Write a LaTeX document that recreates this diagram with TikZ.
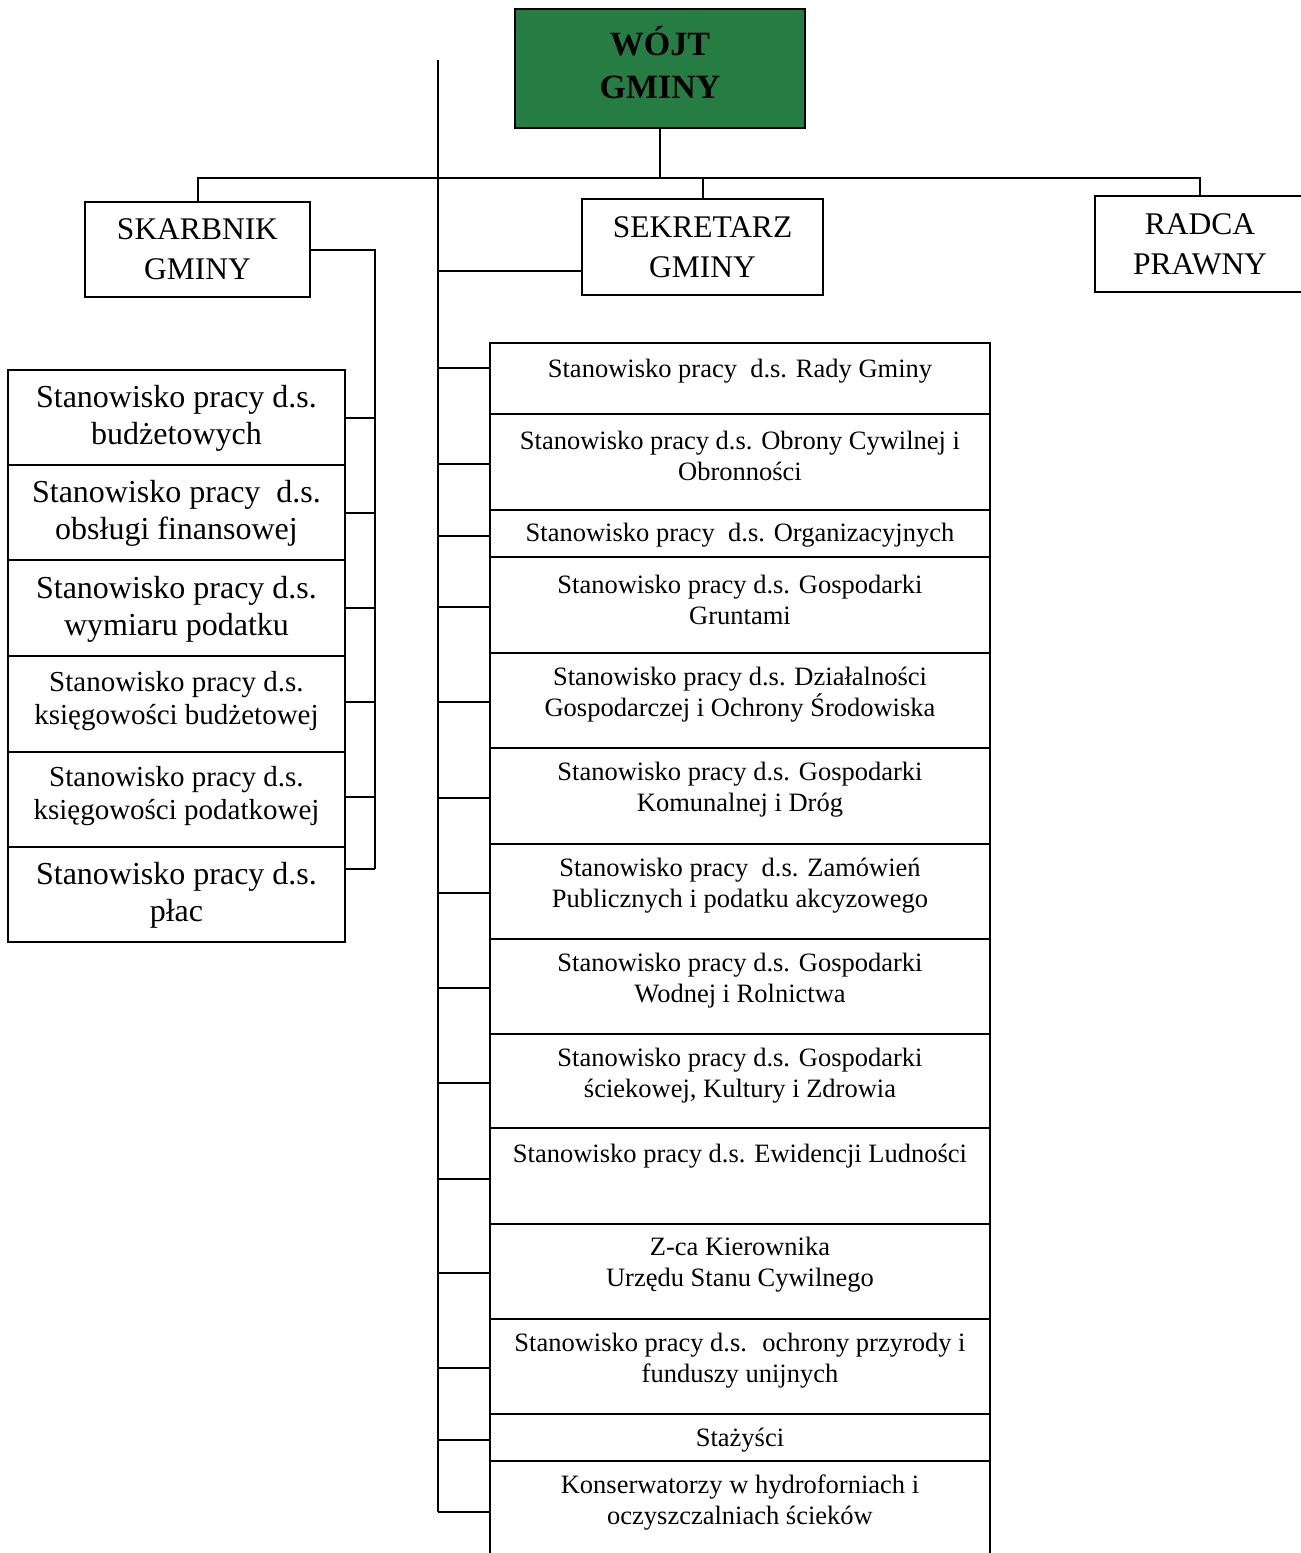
\documentclass[tikz,border=0pt]{standalone}
\usepackage{fontspec}
\setmainfont{Liberation Serif}
\definecolor{wgreen}{RGB}{38,125,68}
\begin{document}
\begin{tikzpicture}[x=1pt,y=-1pt,line width=2pt,
  box/.style={draw=black,line width=2pt,inner sep=0pt},
  topbox/.style={box,align=center,font=\fontsize{31.5}{40}\selectfont},
  rbox/.style={box,minimum width=500},
  lbox/.style={box,minimum width=337},
  rtxt/.style={align=center,inner sep=0pt,font=\fontsize{26.5}{31}\selectfont},
  ltxt/.style={align=center,inner sep=0pt,font=\fontsize{32}{37}\selectfont},
  lstxt/.style={align=center,inner sep=0pt,font=\fontsize{29}{33}\selectfont}]
\clip (0,0) rectangle (1301,1553);
\useasboundingbox (0,0) rectangle (1301,1553);
\fill[white] (0,0) rectangle (1301,1553);

% top level
\node[box,fill=wgreen,minimum width=290,minimum height=119] (wojt) at (660,68.5) {};
\node[align=center,inner sep=0pt,font=\bfseries\fontsize{34}{43}\selectfont] (wojtt) at (660,63) {WÓJT\\GMINY};
\node[topbox,minimum width=225,minimum height=95] (skarb) at (197.5,249.5) {SKARBNIK\\GMINY};
\node[topbox,minimum width=241,minimum height=96] (sekr) at (702.5,247) {SEKRETARZ\\GMINY};
\node[topbox,minimum width=210,minimum height=96] (radca) at (1200,244) {RADCA\\PRAWNY};

\coordinate (bar) at (660,178);
\draw (wojt.south) -- (bar);
\draw (skarb.north) |- (bar) -| (radca.north);
\draw (sekr.north) -- (sekr.north |- bar);

% main vertical line of the secretary
\coordinate (mtop) at (438,60);
\coordinate (mbot) at (438,1512);
\draw (mtop) -- (mbot);
\coordinate (ms) at (438,271);
\draw (ms) -- (ms -| sekr.west);

% right column
\foreach \i/\t/\b/\ty/\by/\txt in {
  1/343/414/371/368/{Stanowisko pracy \ d.s. Rady Gminy},
  2/414/510/456/464/{Stanowisko pracy d.s. Obrony Cywilnej i\\Obronności},
  3/510/557/535/536/{Stanowisko pracy \ d.s. Organizacyjnych},
  4/557/653/600/607/{Stanowisko pracy d.s. Gospodarki\\Gruntami},
  5/653/748/695/702/{Stanowisko pracy d.s. Działalności\\Gospodarczej i Ochrony Środowiska},
  6/748/844/790/798/{Stanowisko pracy d.s. Gospodarki\\Komunalnej i Dróg},
  7/844/939/886/893/{Stanowisko pracy \ d.s. Zamówień\\Publicznych i podatku akcyzowego},
  8/939/1034/981/988/{Stanowisko pracy d.s. Gospodarki\\Wodnej i Rolnictwa},
  9/1034/1128/1076/1083/{Stanowisko pracy d.s. Gospodarki\\ściekowej, Kultury i Zdrowia},
  10/1128/1224/1156/1179/{Stanowisko pracy d.s. Ewidencji Ludności},
  11/1224/1319/1265/1273/{Z-ca Kierownika\\Urzędu Stanu Cywilnego},
  12/1319/1414/1361/1368/{Stanowisko pracy d.s. \ ochrony przyrody i\\funduszy unijnych},
  13/1414/1461/1440/1440/{Stażyści},
  14/1461/1560/1503/1512/{Konserwatorzy w hydroforniach i\\oczyszczalniach ścieków}}{
  \node[rbox,minimum height={\b-\t}] (r\i) at (740,{(\t+\b)/2}) {};
  \node[rtxt] (rt\i) at (740,\ty) {\txt};
  \coordinate (m\i) at (438,\by);
  \draw (m\i) -- (m\i -| r\i.west);
}

% left column (treasurer)
\coordinate (sv) at (375,869);
\draw (skarb.east) -| (sv);
\foreach \i/\t/\b/\ty/\by/\st/\txt in {
  1/370/465/418/418/ltxt/{Stanowisko pracy d.s.\\budżetowych},
  2/465/560/513/513/ltxt/{Stanowisko pracy \ d.s.\\obsługi finansowej},
  3/560/656/609/608/ltxt/{Stanowisko pracy d.s.\\wymiaru podatku},
  4/656/752/701/702/lstxt/{Stanowisko pracy d.s.\\księgowości budżetowej},
  5/752/847/796/797/lstxt/{Stanowisko pracy d.s.\\księgowości podatkowej},
  6/847/942/895/869/ltxt/{Stanowisko pracy d.s.\\płac}}{
  \node[lbox,minimum height={\b-\t}] (l\i) at (176.5,{(\t+\b)/2}) {};
  \node[\st] (lt\i) at (176.5,\ty) {\txt};
  \coordinate (s\i) at (375,\by);
  \draw (s\i) -- (s\i -| l\i.east);
}
\end{tikzpicture}
\end{document}
